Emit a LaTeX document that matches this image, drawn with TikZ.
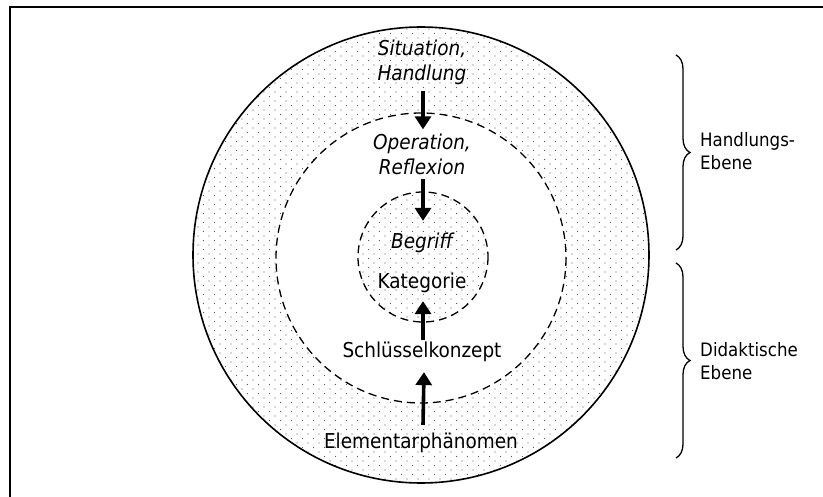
\documentclass[tikz,border=0pt]{standalone}
\usepackage{fontspec}
\setmainfont{DejaVu Sans Condensed}[ItalicFont={DejaVu Sans Condensed Oblique}]
\usetikzlibrary{patterns.meta,arrows.meta,decorations.pathreplacing}
\pgfdeclarepattern{name=mydots,type=uncolored,
  bottom left={\pgfpoint{-1pt}{-1pt}},top right={\pgfpoint{10pt}{8pt}},
  tile size={\pgfpoint{11pt}{9pt}},
  code={\pgfpathcircle{\pgfpoint{0pt}{0pt}}{0.7pt}\pgfpathcircle{\pgfpoint{5.5pt}{4.5pt}}{0.7pt}\pgfusepath{fill}}}
\tikzset{
  maintext/.style={inner sep=0pt,align=center,font=\fontsize{20.5pt}{25pt}\selectfont},
  ittext/.style={maintext,font=\fontsize{20.5pt}{25pt}\selectfont\itshape},
  sidetext/.style={inner sep=0pt,align=left,anchor=west,font=\fontsize{18.5pt}{23pt}\selectfont},
  arr/.style={line width=3.6pt,-{Triangle[width=16pt,length=13pt]}},
  dotfill/.style={pattern={mydots},pattern color=black!65},
  dcircle/.style={draw,dash pattern=on 8pt off 5pt,line width=1.3pt},
  bracestyle/.style={decorate,decoration={brace,amplitude=14pt,aspect=0.5},line width=1.3pt}
}
\begin{document}
\begin{tikzpicture}[x=1pt,y=-1pt]
\useasboundingbox (0,0) rectangle (823,497);
% frame
\draw[line width=2pt] (10,498) -- (10,7) -- (824,7);
% circles
\fill[white] (421,255) circle (228);
\fill[dotfill] (421,255) circle (228);
\draw[line width=1.6pt] (421,255) circle (228);
\fill[white] (421,258) circle (145);
\draw[dcircle] (421,258) circle (145);
\fill[dotfill] (423,257) circle (65);
\draw[dcircle] (423,257) circle (65);
% texts
\node[ittext] (sit) at (422,62) {Situation,\\Handlung};
\node[ittext] (op) at (422,154) {Operation,\\Reflexion};
\node[ittext] (beg) at (422,243) {Begriff};
\node[maintext] (kat) at (422,283) {Kategorie};
\node[maintext] (sch) at (422,352) {Schlüsselkonzept};
\node[maintext] (ele) at (421,443) {Elementarphänomen};
% arrows
\draw[arr] ([xshift=1pt,yshift=-6pt]sit.south) -- ([xshift=1pt,yshift=4pt]op.north);
\draw[arr] ([xshift=1pt,yshift=-4pt]op.south) -- ([xshift=1pt,yshift=12pt]beg.north);
\draw[arr] ([xshift=1pt,yshift=2pt]sch.north) -- ([xshift=1pt,yshift=-8pt]kat.south);
\draw[arr] ([xshift=2pt,yshift=8pt]ele.north) -- ([xshift=2pt,yshift=-10pt]sch.south);
% braces
\coordinate (b1t) at (676,55);
\coordinate (b1b) at (676,250);
\coordinate (b2t) at (676,263);
\coordinate (b2b) at (676,458);
\draw[bracestyle] (b1t) -- (b1b);
\draw[bracestyle] (b2t) -- (b2b);
\node[sidetext] (hl) at (700,151) {Handlungs-\\Ebene};
\node[sidetext] (dd) at (700,361) {Didaktische\\Ebene};
\end{tikzpicture}
\end{document}
